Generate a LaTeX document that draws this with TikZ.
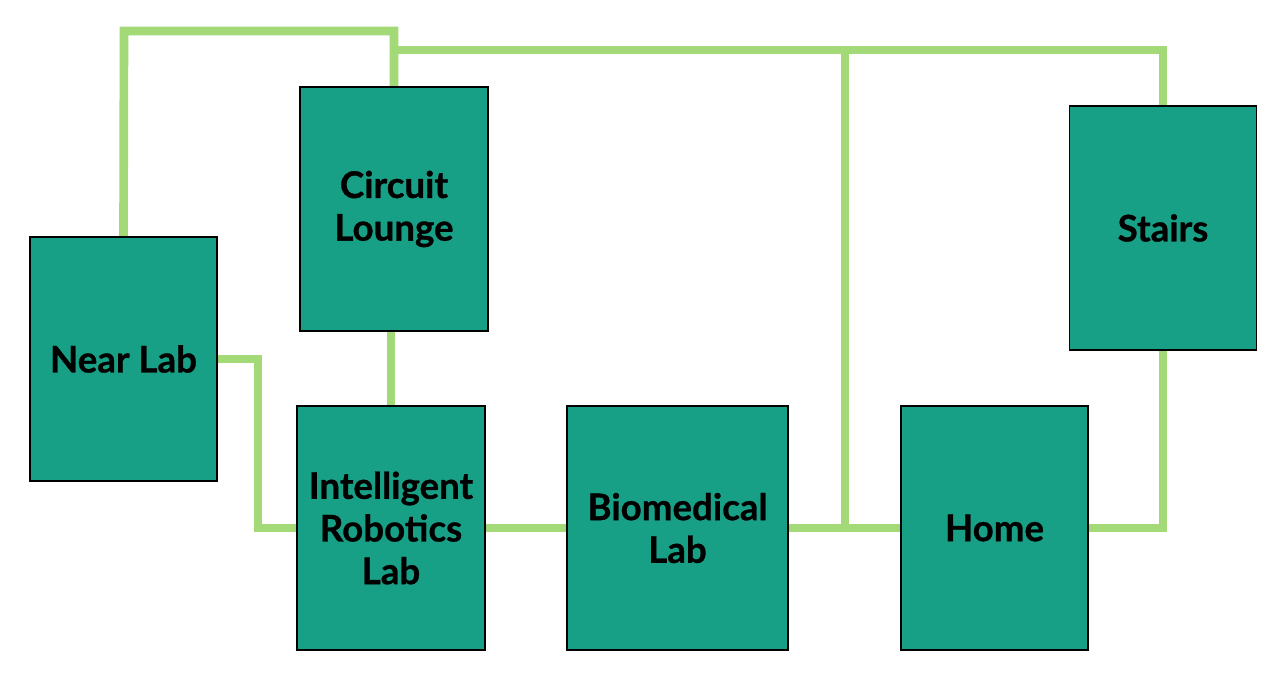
\documentclass[tikz,border=0pt]{standalone}
\usepackage{fontspec}
\setmainfont{Lato}[BoldFeatures={FakeBold=0.8}]
\usetikzlibrary{backgrounds}
\definecolor{boxfill}{HTML}{17A086}
\definecolor{linkgreen}{HTML}{A3D977}
\begin{document}
\begin{tikzpicture}[x=0.75pt,y=-0.75pt,
  room/.style={draw=black,line width=1.2pt,fill=boxfill,inner sep=0pt,
    minimum height=183pt,
    align=center,font=\fontsize{27.5}{32}\selectfont\bfseries,text=black},
  link/.style={draw=linkgreen,line width=6.5pt,line join=miter}]
\useasboundingbox (0,0) rectangle (1276,681);
% rooms (positions in px)
\node[room,minimum width=140.25pt] (nl) at (123.5,359) {Near Lab};
\node[room,minimum width=141pt] (cl) at (394,209) {Circuit\\Lounge};
\node[room,minimum width=140.25pt] (st) at (1163,228) {Stairs};
\node[room,minimum width=141pt] (il) at (391,528) {Intelligent\\Robotics\\Lab};
\node[room,minimum width=165.75pt] (bi) at (677.5,528) {Biomedical\\Lab};
\node[room,minimum width=140.25pt] (ho) at (994.5,528) {Home};
\coordinate (top) at (124,31);
\coordinate (bus) at (845,50);
\coordinate (knee) at (258,528);
% connectors behind the rooms
\begin{scope}[on background layer]
\fill[white] (0,0) rectangle (1276,681);
\draw[link] (nl.north) -- (top) -| (cl.north);
\draw[link] (cl.north) -- (cl.north |- bus) -| (st.north);
\draw[link] (bus) -- (bus |- ho.west);
\draw[link] (nl.east) -| (knee) -- (il.west);
\draw[link] (il.east) -- (bi.west);
\draw[link] (bi.east) -- (ho.west);
\draw[link] (ho.east) -| (st.south);
\draw[link] (il.north) -- (il.north |- cl.south);
\end{scope}
\end{tikzpicture}
\end{document}
